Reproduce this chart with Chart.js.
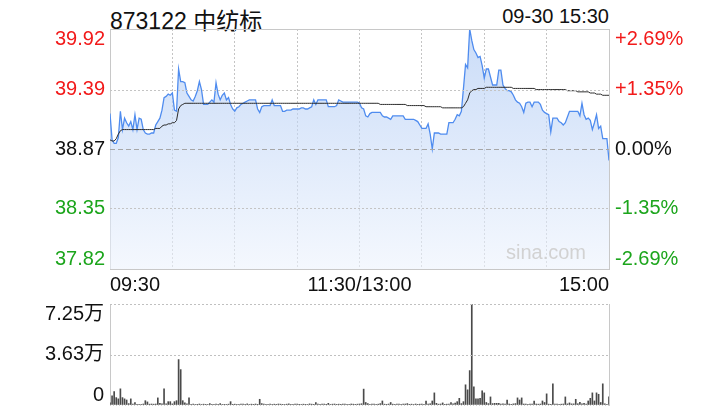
<!DOCTYPE html>
<html>
<head>
<meta charset="utf-8">
<script src="https://cdn.jsdelivr.net/npm/chart.js@4/dist/chart.umd.min.js"></script>
<style>
  body { margin: 0; background: #fff; width: 720px; height: 420px; overflow: hidden; position: relative;
         font-family: "Liberation Sans", Arial, "Noto Sans CJK SC", sans-serif; color: #111; }
  #title { position: absolute; left: 110px; top: 2px; font-size: 23px; }
  #stamp { position: absolute; right: 111px; top: 5px; font-size: 20px; }
  #wm { position: absolute; left: 506px; top: 241px; font-size: 20px; color: #d2d2d2; }
  canvas { position: absolute; left: 0; }
  #priceChart { top: 0; }
  #volChart { top: 300px; }
</style>
</head>
<body>
<div id="title">873122 中纺标</div>
<div id="stamp">09-30 15:30</div>
<canvas id="priceChart" width="720" height="300"></canvas>
<canvas id="volChart" width="720" height="120"></canvas>
<div id="wm">sina.com</div>
<script>
// minute prices 09:30-11:30, 13:01-15:00
const price = [
  39.18, 38.95, 38.92, 38.92, 38.97, 39.20, 39.04, 39.14, 39.10, 39.07,
  39.11, 39.04, 39.17, 39.04, 39.14, 39.13, 39.04, 39.01, 39.00, 39.00,
  39.01, 39.01, 39.08, 39.11, 39.14, 39.21, 39.32, 39.33, 39.35, 39.34,
  39.36, 39.21, 39.20, 39.57, 39.46, 39.46, 39.45, 39.36, 39.33, 39.30,
  39.29, 39.33, 39.38, 39.46, 39.39, 39.26, 39.26, 39.26, 39.28, 39.30,
  39.28, 39.45, 39.35, 39.30, 39.34, 39.36, 39.30, 39.32, 39.26, 39.22,
  39.20, 39.23, 39.24, 39.26, 39.27, 39.28, 39.29, 39.30, 39.30, 39.30,
  39.30, 39.22, 39.19, 39.24, 39.25, 39.25, 39.25, 39.25, 39.30, 39.25,
  39.25, 39.25, 39.25, 39.20, 39.20, 39.21, 39.21, 39.21, 39.22, 39.22,
  39.22, 39.22, 39.23, 39.23, 39.22, 39.22, 39.23, 39.24, 39.30, 39.26,
  39.30, 39.30, 39.30, 39.30, 39.30, 39.24, 39.24, 39.24, 39.24, 39.25,
  39.30, 39.29, 39.28, 39.28, 39.28, 39.28, 39.28, 39.28, 39.28, 39.28,
  39.27, 39.23, 39.22, 39.16, 39.15, 39.18, 39.19, 39.19, 39.19, 39.19,
  39.19, 39.16, 39.15, 39.15, 39.14, 39.13, 39.16, 39.16, 39.16, 39.16,
  39.16, 39.16, 39.13, 39.13, 39.13, 39.13, 39.13, 39.12, 39.11, 39.08,
  39.05, 39.05, 39.05, 39.09, 39.00, 38.87, 39.01, 39.01, 39.01, 39.00,
  39.00, 39.00, 39.00, 39.10, 39.10, 39.10, 39.13, 39.17, 39.16, 39.20,
  39.40, 39.61, 39.58, 39.92, 39.82, 39.74, 39.71, 39.67, 39.68, 39.60,
  39.49, 39.57, 39.57, 39.50, 39.43, 39.43, 39.43, 39.56, 39.56, 39.43,
  39.40, 39.38, 39.38, 39.37, 39.34, 39.30, 39.28, 39.27, 39.24, 39.19,
  39.27, 39.28, 39.28, 39.24, 39.28, 39.28, 39.28, 39.26, 39.21, 39.19,
  39.18, 39.17, 39.02, 39.14, 39.14, 39.14, 39.11, 39.10, 39.08, 39.10,
  39.15, 39.20, 39.20, 39.20, 39.20, 39.20, 39.16, 39.27, 39.17, 39.13,
  39.14, 39.12, 39.04, 39.10, 39.17, 39.05, 39.07, 38.96, 38.96, 38.96,
  38.77
];

// running average price
const avgPrice = [
  38.95, 38.94, 38.94, 38.96, 39.00, 39.03, 39.04, 39.04, 39.04, 39.04,
  39.04, 39.04, 39.04, 39.04, 39.04, 39.04, 39.04, 39.04, 39.04, 39.04,
  39.04, 39.04, 39.05, 39.05, 39.05, 39.07, 39.08, 39.08, 39.09, 39.09,
  39.10, 39.10, 39.12, 39.22, 39.25, 39.26, 39.27, 39.27, 39.27, 39.27,
  39.27, 39.27, 39.27, 39.27, 39.27, 39.27, 39.27, 39.27, 39.27, 39.27,
  39.27, 39.27, 39.27, 39.27, 39.27, 39.27, 39.27, 39.27, 39.27, 39.27,
  39.27, 39.27, 39.27, 39.27, 39.27, 39.27, 39.27, 39.27, 39.27, 39.27,
  39.27, 39.27, 39.27, 39.27, 39.27, 39.27, 39.27, 39.27, 39.27, 39.27,
  39.27, 39.27, 39.27, 39.27, 39.27, 39.27, 39.27, 39.27, 39.27, 39.27,
  39.27, 39.27, 39.27, 39.27, 39.27, 39.27, 39.27, 39.27, 39.27, 39.27,
  39.27, 39.27, 39.27, 39.27, 39.27, 39.27, 39.27, 39.27, 39.27, 39.27,
  39.27, 39.27, 39.27, 39.27, 39.27, 39.27, 39.27, 39.27, 39.27, 39.27,
  39.27, 39.27, 39.27, 39.27, 39.27, 39.27, 39.27, 39.27, 39.27, 39.27,
  39.26, 39.26, 39.26, 39.26, 39.26, 39.26, 39.26, 39.26, 39.26, 39.26,
  39.26, 39.26, 39.26, 39.25, 39.25, 39.25, 39.25, 39.25, 39.25, 39.25,
  39.25, 39.25, 39.24, 39.24, 39.24, 39.24, 39.24, 39.24, 39.24, 39.24,
  39.23, 39.23, 39.23, 39.23, 39.23, 39.23, 39.23, 39.23, 39.23, 39.23,
  39.24, 39.27, 39.30, 39.36, 39.38, 39.39, 39.39, 39.40, 39.40, 39.40,
  39.40, 39.41, 39.41, 39.41, 39.41, 39.41, 39.41, 39.41, 39.41, 39.41,
  39.41, 39.41, 39.41, 39.41, 39.40, 39.40, 39.40, 39.40, 39.40, 39.40,
  39.40, 39.40, 39.40, 39.40, 39.40, 39.39, 39.39, 39.39, 39.39, 39.39,
  39.39, 39.39, 39.39, 39.39, 39.39, 39.39, 39.39, 39.39, 39.39, 39.39,
  39.38, 39.38, 39.38, 39.38, 39.38, 39.37, 39.37, 39.37, 39.37, 39.37,
  39.37, 39.36, 39.36, 39.36, 39.35, 39.35, 39.35, 39.34, 39.34, 39.34,
  39.34
];

// minute volume (shares)
const volume = [
  1500, 6500, 9700, 5300, 4400, 11600, 5300, 4400, 3600, 1000,
  4400, 700, 1700, 500, 300, 400, 700, 3100, 2200, 600,
  700, 600, 700, 5100, 1200, 800, 11600, 800, 2400, 2400,
  800, 2400, 3100, 32600, 25400, 3100, 1500, 800, 5100, 500,
  600, 400, 500, 700, 400, 600, 500, 400, 1000, 500,
  400, 600, 500, 1000, 400, 500, 300, 600, 2400, 500,
  600, 400, 500, 700, 600, 500, 800, 400, 600, 500,
  700, 500, 4100, 1000, 600, 400, 500, 700, 400, 600,
  500, 700, 600, 500, 400, 600, 800, 500, 400, 600,
  700, 500, 400, 600, 500, 400, 800, 600, 500, 1700,
  600, 500, 700, 600, 500, 1200, 400, 600, 700, 500,
  600, 500, 700, 600, 400, 500, 700, 600, 500, 600,
  700, 900, 11400, 1800, 1000, 500, 600, 700, 500, 600,
  1000, 2900, 600, 500, 700, 1800, 600, 500, 700, 600,
  500, 600, 700, 1000, 500, 600, 400, 700, 500, 600,
  700, 500, 2900, 700, 900, 2900, 8700, 1200, 600, 700,
  1500, 500, 600, 700, 1800, 800, 1300, 2400, 4800, 1000,
  2400, 14500, 10900, 24700, 72500, 13000, 4400, 4400, 4800, 10200,
  8700, 1800, 1000, 5800, 1000, 1200, 1200, 1200, 600, 800,
  700, 3600, 700, 500, 800, 1000, 5100, 3600, 5100, 700,
  600, 500, 700, 600, 2900, 700, 600, 700, 2900, 1800,
  8000, 600, 500, 15200, 600, 700, 500, 600, 700, 5800,
  800, 1500, 800, 800, 4100, 900, 1900, 800, 1200, 600,
  2900, 4800, 8700, 2900, 8700, 7700, 1800, 15200, 800, 500,
  5800
];

const priceTicks = [37.82, 38.35, 38.87, 39.39, 39.92];
const pctTicks = ["-2.69%", "-1.35%", "0.00%", "+1.35%", "+2.69%"];
const tickColors = ["#1ca51c", "#1ca51c", "#111111", "#f21a1a", "#f21a1a"];
const gridMinutes = [0, 30, 60, 90, 120, 150, 180, 210, 240];
const timeTickPos = [0, 120, 240];
const timeTickLabels = ["09:30", "11:30/13:00", "15:00"];
const volTicks = [0, 36250, 72500];
const volTickLabels = ["0", "3.63万", "7.25万"];

Chart.defaults.font.family = '"Liberation Sans", Arial, "Noto Sans CJK SC", sans-serif';
Chart.defaults.font.size = 20;

// top label pushed down, bottom label pushed up (empty line trick)
function edgeLabel(text, index, count) {
  if (index === count - 1) return ["", text];
  if (index === 0) return [text, ""];
  return text;
}

// fixed axis width, and no extra room for overflowing edge labels
function fixWidth(w) {
  return (s) => { s.width = w; s.paddingTop = 0; s.paddingBottom = 0; };
}

// horizontal grid lines on the y ticks, drawn above the area fill
const hGrid = {
  id: "hGrid",
  afterDatasetsDraw(chart, args, opts) {
    const { ctx, chartArea } = chart;
    const scale = chart.scales.y;
    ctx.save();
    ctx.lineWidth = 1;
    scale.ticks.forEach((t, i) => {
      const st = opts.style(i, scale.ticks.length);
      const y = Math.round(scale.getPixelForValue(t.value)) + 0.5;
      ctx.strokeStyle = st.color;
      ctx.setLineDash(st.dash);
      ctx.beginPath();
      ctx.moveTo(chartArea.left, y);
      ctx.lineTo(chartArea.right, y);
      ctx.stroke();
    });
    ctx.restore();
  },
};

const priceCtx = document.getElementById("priceChart");
new Chart(priceCtx, {
  type: "line",
  plugins: [hGrid],
  data: {
    datasets: [
      {
        data: avgPrice.map((v, i) => ({ x: i, y: v })),
        borderColor: "#2b2b2b",
        borderWidth: 1,
        pointRadius: 0,
        fill: false,
        order: 1,
      },
      {
        data: price.map((v, i) => ({ x: i, y: v })),
        borderColor: "#4f8cef",
        borderWidth: 1.3,
        pointRadius: 0,
        fill: "start",
        order: 2,
        backgroundColor: (c) => {
          const area = c.chart.chartArea;
          if (!area) return "rgba(180,205,245,0.6)";
          const g = c.chart.ctx.createLinearGradient(0, area.top, 0, area.bottom);
          g.addColorStop(0, "rgba(167,197,243,0.6)");
          g.addColorStop(1, "rgba(237,243,253,0.6)");
          return g;
        },
      },
    ],
  },
  options: {
    responsive: false,
    animation: false,
    layout: { padding: { top: 29 } },
    plugins: {
      legend: { display: false },
      tooltip: { enabled: false },
      hGrid: {
        style: (i, n) => {
          if (i === 0 || i === n - 1) return { color: "#c8c8c8", dash: [] };
          if (i === 2) return { color: "#a6a6a6", dash: [5, 3] };
          return { color: "#c4c4c4", dash: [2, 2] };
        },
      },
    },
    scales: {
      x: {
        type: "linear",
        min: 0,
        max: 240,
        afterBuildTicks: (s) => { s.ticks = gridMinutes.map((v) => ({ value: v })); },
        afterFit: (s) => { s.height = 31; },
        ticks: {
          autoSkip: false,
          maxRotation: 0,
          align: "inner",
          padding: 4,
          color: "#111",
          callback: (v) => {
            const k = timeTickPos.indexOf(v);
            return k >= 0 ? timeTickLabels[k] : "";
          },
        },
        grid: { color: "#c4c4c4", drawTicks: false },
        border: { color: "#c8c8c8", dash: (c) => (c.tick ? [2, 2] : []) },
      },
      y: {
        position: "left",
        min: priceTicks[0],
        max: priceTicks[priceTicks.length - 1],
        afterBuildTicks: (s) => { s.ticks = priceTicks.map((v) => ({ value: v })); },
        afterFit: fixWidth(110),
        ticks: {
          autoSkip: false,
          padding: 5,
          color: (c) => tickColors[c.index],
          font: { size: 20, lineHeight: 1 },
          callback: (v, i) => edgeLabel(priceTicks[i].toFixed(2), i, priceTicks.length),
        },
        grid: { drawOnChartArea: false, drawTicks: false },
        border: { color: "#c8c8c8" },
      },
      y2: {
        position: "right",
        min: priceTicks[0],
        max: priceTicks[priceTicks.length - 1],
        afterBuildTicks: (s) => { s.ticks = priceTicks.map((v) => ({ value: v })); },
        afterFit: fixWidth(111),
        ticks: {
          autoSkip: false,
          padding: 6,
          color: (c) => tickColors[c.index],
          font: { size: 20, lineHeight: 1 },
          callback: (v, i) => edgeLabel(pctTicks[i], i, pctTicks.length),
        },
        grid: { drawOnChartArea: false, drawTicks: false },
        border: { color: "#c8c8c8" },
      },
    },
  },
});

const volCtx = document.getElementById("volChart");
new Chart(volCtx, {
  type: "bar",
  plugins: [hGrid],
  data: {
    datasets: [
      {
        data: volume.map((v, i) => ({ x: i, y: v })),
        backgroundColor: "#4a4a4a",
        barThickness: 1,
        borderWidth: 0,
      },
    ],
  },
  options: {
    responsive: false,
    animation: false,
    layout: { padding: { top: 4, bottom: 15 } },
    plugins: {
      legend: { display: false },
      tooltip: { enabled: false },
      hGrid: {
        style: (i) => (i === 0 ? { color: "#d0d0d0", dash: [1, 2] } : { color: "#c0c0c0", dash: [2, 2] }),
      },
    },
    scales: {
      x: { type: "linear", min: 0, max: 240, offset: false, display: false },
      y: {
        position: "left",
        min: volTicks[0],
        max: volTicks[volTicks.length - 1],
        afterBuildTicks: (s) => { s.ticks = volTicks.map((v) => ({ value: v })); },
        afterFit: fixWidth(110),
        ticks: {
          autoSkip: false,
          padding: 6,
          color: "#111",
          font: { size: 20, lineHeight: 1 },
          callback: (v, i) => edgeLabel(volTickLabels[i], i, volTickLabels.length),
        },
        grid: { drawOnChartArea: false, drawTicks: false },
        border: { color: "#c8c8c8" },
      },
      y2: {
        position: "right",
        min: 0,
        max: 1,
        afterFit: fixWidth(111),
        ticks: { display: false },
        grid: { drawOnChartArea: false, drawTicks: false },
        border: { color: "#c8c8c8" },
      },
    },
  },
});
</script>
</body>
</html>
